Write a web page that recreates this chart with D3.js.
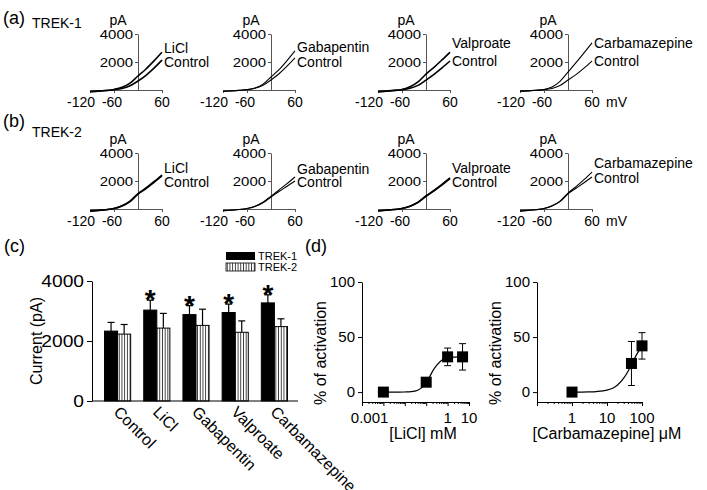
<!DOCTYPE html>
<html><head><meta charset="utf-8">
<script src="https://cdn.jsdelivr.net/npm/d3@7"></script>
<style>
body{margin:0;background:#fff}
svg{display:block}
text{font-family:"Liberation Sans",Arial,Helvetica,sans-serif}
</style></head>
<body><svg id="c" width="707" height="490" font-family="Liberation Sans, Arial, sans-serif"></svg>
<script>
// ---------- DATA ----------
const voltage = [-120,-100,-80,-60,-40,-20,0,20,40,60];
const drugs = ["LiCl","Gabapentin","Valproate","Carbamazepine"];
// TREK-1 I-V (pA)
const trek1LiCl     = [-120,-90,-40,40,190,490,1000,1500,2080,2700];
const trek1LiClCtrl = [-110,-80,-40,20,110,300,640,1050,1560,2140];
const trek1Gaba     = [-100,-70,-30,30,150,420,930,1450,2100,2800];
const trek1GabaCtrl = [-100,-70,-30,20,120,340,710,1160,1700,2300];
const trek1Valp     = [-130,-90,-40,40,230,580,1140,1620,2150,2700];
const trek1ValpCtrl = [-110,-80,-30,20,120,330,710,1120,1580,2070];
const trek1Carb     = [-90,-60,-20,40,220,620,1280,1950,2650,3360];
const trek1CarbCtrl = [-90,-60,-20,20,110,320,710,1100,1560,2070];
// TREK-2 I-V (pA)
const trek2LiCl     = [-150,-110,-50,40,230,560,1100,1500,1950,2430];
const trek2LiClCtrl = [-140,-100,-50,30,210,530,1060,1460,1900,2370];
const trek2Gaba     = [-120,-90,-40,40,200,480,920,1360,1810,2290];
const trek2GabaCtrl = [-120,-90,-40,30,180,440,860,1250,1620,2000];
const trek2Valp     = [-130,-90,-40,40,200,480,930,1320,1750,2220];
const trek2ValpCtrl = [-130,-90,-40,40,190,470,910,1300,1720,2180];
const trek2Carb     = [-140,-100,-50,40,230,560,1140,1600,2100,2640];
const trek2CarbCtrl = [-140,-100,-50,30,210,530,1080,1480,1880,2290];
const ivYTicks = [2000,4000];
const ivXTicks = ["-120","-60","60"];

// Panel (c)
const categories = ["Control","LiCl","Gabapentin","Valproate","Carbamazepine"];
const trek1Mean = [2330, 3030, 2880, 2950, 3270];
const trek1Err  = [290, 330, 300, 280, 270];
const trek2Mean = [2230, 2430, 2520, 2290, 2480];
const trek2Err  = [320, 490, 540, 380, 260];
const significant = [false, true, true, true, true];
const barYTicks = [0, 2000, 4000];

// Panel (d)
const liclConc = [0.001, 0.1, 1, 5];
const liclAct  = [0, 9, 32, 32];
const liclErr  = [0, 0, 8, 12];
const liclFitX = [0.001,0.005,0.01,0.02,0.04,0.07,0.1,0.15,0.2,0.3,0.5,0.7,1,2,5];
const liclFitY = [0,0,0.1,0.4,1.7,4.9,8.5,14.5,19,24,28.5,30,31,31.8,32];
const carbConc = [1, 50, 100];
const carbAct  = [0, 26, 42];
const carbErr  = [0, 20, 12];
const carbFitX = [1,3,5,10,15,20,30,40,50,70,100];
const carbFitY = [0,0.2,0.5,1.8,3.8,6.4,12.6,19,25,34,42];
const actTicks = [0, 50, 100];

// ---------- DRAW ----------
const FONT = "Liberation Sans, Arial, sans-serif";
const svg = d3.select("#c");
function txt(x, y, s, size, anchor, g) {
  return (g || svg).append("text").attr("x", x).attr("y", y).attr("font-size", size)
    .attr("font-family", FONT)
    .attr("text-anchor", anchor || "start").attr("fill", "#000").text(s);
}
function styleAxis(a, size, sx, off) {
  a.attr("font-family", FONT).attr("font-size", size);
  a.selectAll("text").attr("font-family", FONT).attr("font-size", size).attr("fill", "#000");
  if (sx) a.selectAll("text").attr("transform", `scale(${sx},1)`).attr("x", -off / sx);
}

// panel letters
txt(3, 24, "(a)", 18);
txt(32, 28, "TREK-1", 14);
txt(3, 127, "(b)", 18);
txt(32, 137, "TREK-2", 14);
txt(4, 252, "(c)", 18);
txt(305, 252, "(d)", 18);

// I-V panels
const ivPanelX = [90, 223, 378, 520];
const ivRowY = [90, 209];
const ivData = [
  [[trek1LiCl,trek1LiClCtrl],[trek1Gaba,trek1GabaCtrl],[trek1Valp,trek1ValpCtrl],[trek1Carb,trek1CarbCtrl]],
  [[trek2LiCl,trek2LiClCtrl],[trek2Gaba,trek2GabaCtrl],[trek2Valp,trek2ValpCtrl],[trek2Carb,trek2CarbCtrl]]
];
const drugLabOff = [[-42,-43,-47,-47],[-41,-40,-41,-46]];
const ctrlLabOff = [[-28,-28,-29,-29],[-27,-27,-27,-31]];
const thinPanel = [false, true, false, true];

ivRowY.forEach((ry, ri) => {
  drugs.forEach((d, di) => {
    const x0 = ivPanelX[di];
    const x = d3.scaleLinear().domain([-120, 60]).range([x0, x0 + 72]);
    const y = d3.scaleLinear().domain([0, 4000]).range([ry, ry - 56]);
    const g = svg.append("g");
    const xa = g.append("g").attr("transform", `translate(0,${y(0)})`)
      .call(d3.axisBottom(x).tickValues(ivXTicks.map(Number)).tickSize(3).tickSizeOuter(0).tickFormat(""));
    xa.selectAll("path,line").attr("stroke", "#555");
    const ya = g.append("g").attr("transform", `translate(${x(0)},0)`)
      .call(d3.axisLeft(y).tickValues(ivYTicks).tickSize(3).tickSizeOuter(0).tickPadding(2).tickFormat(d3.format("d")));
    ya.selectAll("path,line").attr("stroke", "#555");
    styleAxis(ya, 13, 1.15, 5);
    txt(x(0) - 20, ry - 65, "pA", 14, "middle", g);
    txt(x(-120) + 5, ry + 17, ivXTicks[0], 14, "end", g);
    txt(x(-60) - 2, ry + 17, ivXTicks[1], 14, "middle", g);
    txt(x(60), ry + 17, ivXTicks[2], 14, "middle", g);
    if (di === 3) txt(x(60) + 14, ry + 17, "mV", 14, "start", g);
    const line = d3.line().x((v, i) => x(voltage[i])).y(v => y(v)).curve(d3.curveMonotoneX);
    ivData[ri][di].forEach(series => {
      g.append("path").attr("d", line(series)).attr("fill", "none").attr("stroke", "#000")
        .attr("stroke-width", thinPanel[di] ? 1.1 : 1.6);
    });
    txt(x(60) + 2, ry + drugLabOff[ri][di], d, 14, "start", g).attr("dy", "0.35em");
    txt(x(60) + 2, ry + ctrlLabOff[ri][di], "Control", 14, "start", g).attr("dy", "0.35em");
  });
});

// ---------- Panel (c) ----------
{
  const g = svg.append("g");
  const y = d3.scaleLinear().domain([0, 4000]).range([401, 281]);
  const xb = d3.scaleBand().domain(categories).range([98, 294]);
  const xs = d3.scaleBand().domain(["TREK-1","TREK-2"]).range([0, xb.bandwidth()]).paddingOuter(0.5).paddingInner(0);
  const defs = svg.append("defs");
  const pat = defs.append("pattern").attr("id", "vstripe").attr("patternUnits", "userSpaceOnUse")
    .attr("width", 2.7).attr("height", 10);
  pat.append("rect").attr("width", 2.7).attr("height", 10).attr("fill", "#fff");
  pat.append("rect").attr("x", 0).attr("width", 0.9).attr("height", 10).attr("fill", "#333");

  const series = [
    {k: "TREK-1", m: trek1Mean, e: trek1Err, fill: "#000"},
    {k: "TREK-2", m: trek2Mean, e: trek2Err, fill: "url(#vstripe)"}
  ];
  series.forEach(s => {
    categories.forEach((c, i) => {
      const bx = xb(c) + xs(s.k), bw = xs.bandwidth();
      const top = y(s.m[i]), cap = y(s.m[i] + s.e[i]);
      g.append("line").attr("x1", bx + bw / 2).attr("x2", bx + bw / 2).attr("y1", top).attr("y2", cap)
        .attr("stroke", "#000").attr("stroke-width", 1.2);
      g.append("line").attr("x1", bx + bw / 2 - 3.5).attr("x2", bx + bw / 2 + 3.5).attr("y1", cap).attr("y2", cap)
        .attr("stroke", "#000").attr("stroke-width", 1.2);
      g.append("rect").attr("x", bx).attr("y", top).attr("width", bw).attr("height", y(0) - top)
        .attr("fill", s.fill).attr("stroke", "#000").attr("stroke-width", 1);
      if (s.k === "TREK-1" && significant[i]) {
        txt(bx + bw / 2, cap + 9, "*", 28, "middle", g).attr("font-weight", "bold");
      }
    });
  });
  const ya = g.append("g").attr("transform", "translate(92,0)")
    .call(d3.axisLeft(y).tickValues(barYTicks).tickSize(5).tickSizeOuter(0).tickPadding(3).tickFormat(d3.format("d")));
  styleAxis(ya, 16, 1.2, 8);
  ya.selectAll("path,line").attr("stroke", "#000");
  g.append("line").attr("x1", 92).attr("x2", 298).attr("y1", y(0)).attr("y2", y(0)).attr("stroke", "#000");
  categories.forEach(c => {
    const cx = xb(c) + xb.bandwidth() / 2;
    g.append("text").attr("transform", `translate(${cx + 3},${y(0) + 4}) rotate(45)`)
      .attr("font-family", FONT).attr("font-size", 16).attr("dominant-baseline", "hanging").text(c);
  });
  g.append("text").attr("transform", `translate(42,341) rotate(-90)`).attr("text-anchor", "middle")
    .attr("font-family", FONT).attr("font-size", 16).text("Current (pA)");
  g.append("rect").attr("x", 226).attr("y", 252).attr("width", 29).attr("height", 8).attr("fill", "#000");
  g.append("rect").attr("x", 226).attr("y", 263).attr("width", 29).attr("height", 8).attr("fill", "url(#vstripe)")
    .attr("stroke", "#000").attr("stroke-width", 0.8);
  txt(258, 256, "TREK-1", 11, "start", g).attr("dy", "0.35em");
  txt(258, 267, "TREK-2", 11, "start", g).attr("dy", "0.35em");
}

// ---------- Panel (d) ----------
function doseResponse(opts) {
  const g = svg.append("g");
  const x = d3.scaleLog().domain(opts.domain).range(opts.range);
  const y = d3.scaleLinear().domain([-9, 100]).range([402, 282]);
  const minor = [];
  const lo = Math.floor(Math.log10(opts.domain[0])), hi = Math.ceil(Math.log10(opts.domain[1]));
  for (let e = lo; e < hi; e++) for (let k = 2; k <= 9; k++) {
    const v = k * Math.pow(10, e);
    if (v > opts.domain[0] && v < opts.domain[1]) minor.push(v);
  }
  const majors = [];
  for (let e = lo; e <= hi; e++) { const v = Math.pow(10, e); if (v >= opts.domain[0] * 0.999 && v <= opts.domain[1] * 1.001) majors.push(v); }
  g.append("g").attr("transform", `translate(0,402)`)
    .call(d3.axisBottom(x).tickValues(majors).tickSize(4).tickSizeOuter(0).tickFormat(""));
  g.append("g").attr("transform", `translate(0,402)`)
    .call(d3.axisBottom(x).tickValues(minor).tickSize(2).tickSizeOuter(0).tickFormat(""))
    .select(".domain").remove();
  g.selectAll("path,line").attr("stroke", "#000");
  opts.labels.forEach(l => txt(x(l.v) + (l.dx || 0), 423, l.t, 15, l.anchor || "middle", g));
  const ya = g.append("g").attr("transform", `translate(${opts.range[0]},0)`)
    .call(d3.axisLeft(y).tickValues(actTicks).tickSize(4).tickSizeOuter(0).tickPadding(3));
  styleAxis(ya, 15);
  ya.selectAll("path,line").attr("stroke", "#000");
  const line = d3.line().x((v, i) => x(opts.fitX[i])).y(v => y(v)).curve(d3.curveMonotoneX);
  g.append("path").attr("d", line(opts.fitY)).attr("fill", "none").attr("stroke", "#000").attr("stroke-width", 1.2);
  opts.xs.forEach((c, i) => {
    if (!opts.err[i]) return;
    const cx = x(c);
    [opts.ys[i] + opts.err[i], opts.ys[i] - opts.err[i]].forEach(v => {
      g.append("line").attr("x1", cx).attr("x2", cx).attr("y1", y(opts.ys[i])).attr("y2", y(v)).attr("stroke", "#000");
      g.append("line").attr("x1", cx - 3.5).attr("x2", cx + 3.5).attr("y1", y(v)).attr("y2", y(v)).attr("stroke", "#000");
    });
  });
  g.selectAll("rect.pt").data(opts.xs).join("rect").attr("class", "pt")
    .attr("x", d => x(d) - 5.5).attr("y", (d, i) => y(opts.ys[i]) - 5.5).attr("width", 11).attr("height", 11).attr("fill", "#000");
  g.append("text").attr("transform", `translate(${opts.range[0] - 36},353) rotate(-90)`)
    .attr("text-anchor", "middle").attr("font-family", FONT).attr("font-size", 16).text("% of activation");
  txt(opts.titleX, 439, opts.title, 16, "middle", g);
}
doseResponse({
  domain: [0.0001, 10], range: [362, 469],
  xs: liclConc, ys: liclAct, err: liclErr, fitX: liclFitX, fitY: liclFitY,
  labels: [{v: 0.001, t: "0.001", anchor: "end", dx: 5}, {v: 1, t: "1"}, {v: 10, t: "10"}],
  title: "[LiCl] mM", titleX: 423
});
doseResponse({
  domain: [0.1, 100], range: [537, 642],
  xs: carbConc, ys: carbAct, err: carbErr, fitX: carbFitX, fitY: carbFitY,
  labels: [{v: 1, t: "1"}, {v: 10, t: "10"}, {v: 100, t: "100"}],
  title: "[Carbamazepine] μM", titleX: 607
});
</script></body></html>
